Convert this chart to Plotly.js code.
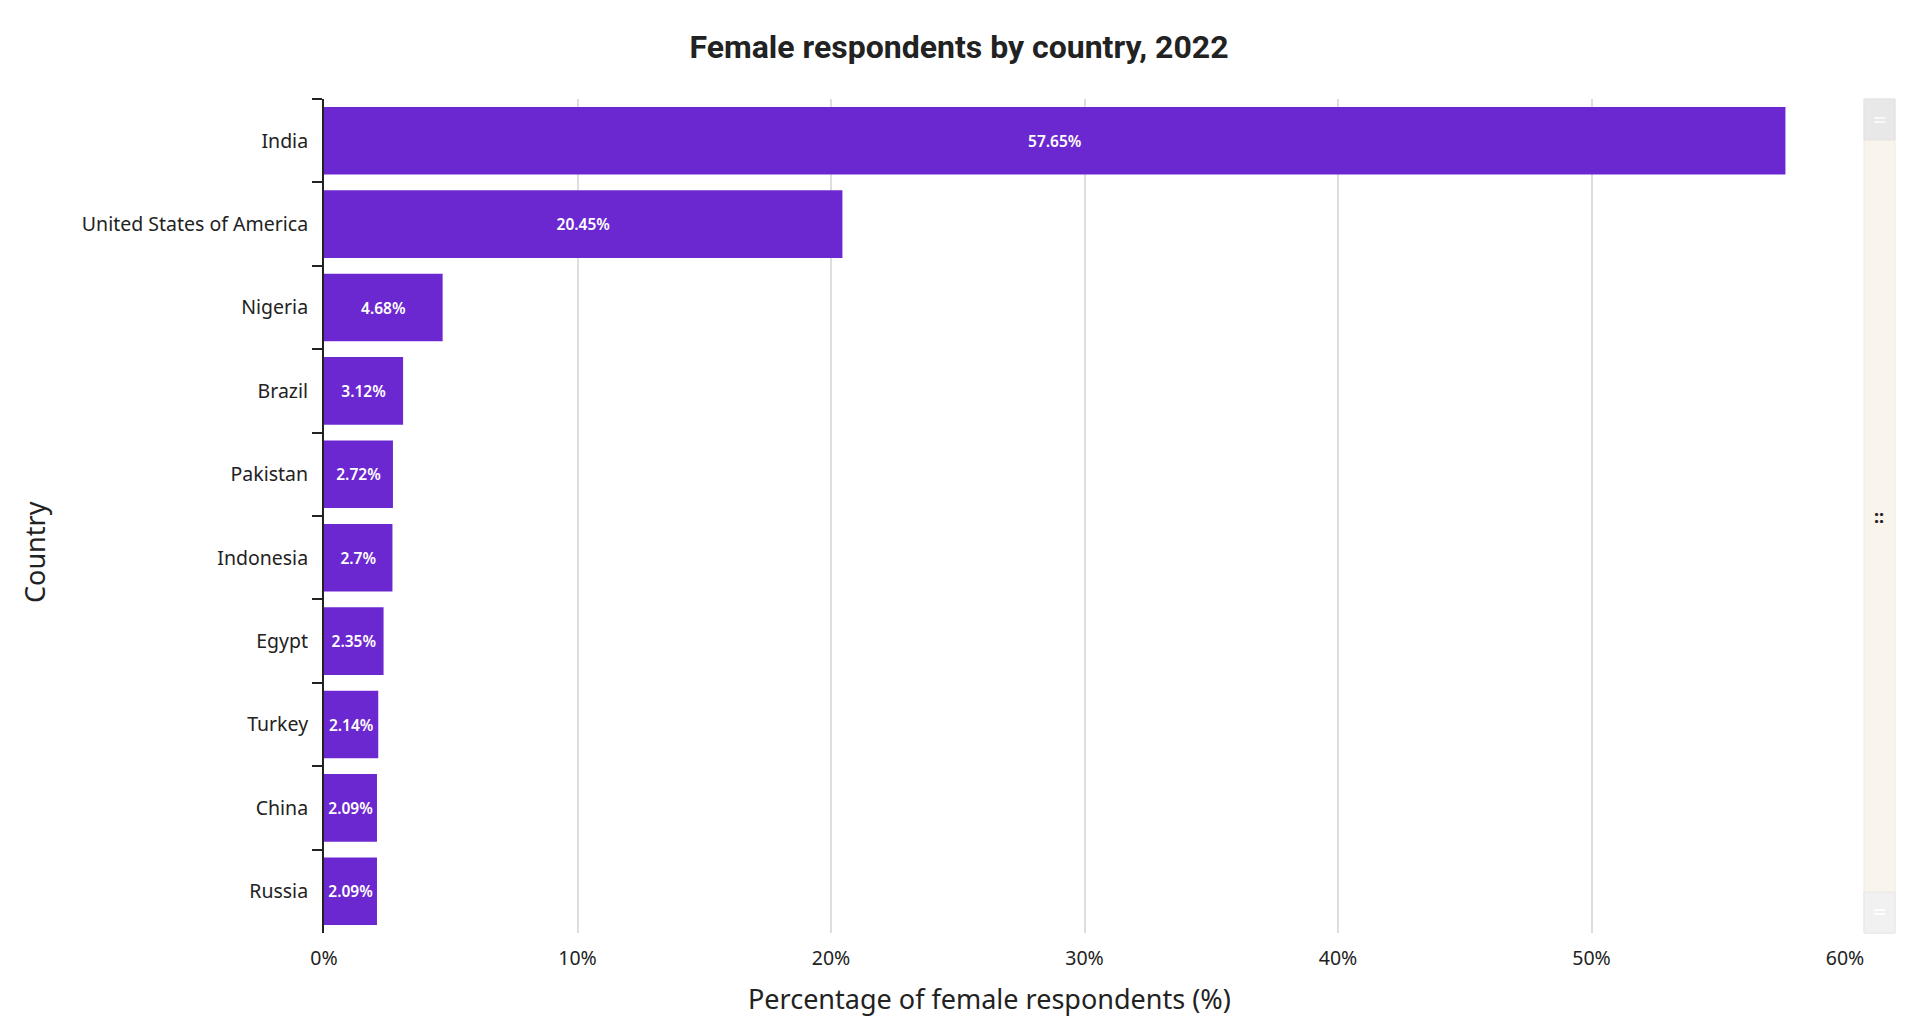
<!DOCTYPE html>
<html>
<head>
<meta charset="utf-8">
<script src="https://cdn.plot.ly/plotly-3.0.1.min.js"></script>
<style>
html,body{margin:0;padding:0;background:#fff;}
#chart{width:1918px;height:1030px;}
</style>
</head>
<body>
<div id="chart"></div>
<script>
const countries = ["India","United States of America","Nigeria","Brazil","Pakistan","Indonesia","Egypt","Turkey","China","Russia"];
const femalePct = [57.65, 20.45, 4.68, 3.12, 2.72, 2.7, 2.35, 2.14, 2.09, 2.09];
const xTickVals = [0,10,20,30,40,50,60];
const xTickText = ["0%","10%","20%","30%","40%","50%","60%"];
const chartTitle = "Female respondents by country, 2022";
const xTitle = "Percentage of female respondents (%)";
const yTitle = "Country";

const barColor = "#6c28d0";
const textFont = "Noto Sans, Open Sans, sans-serif";

const trace = {
  type: "bar",
  orientation: "h",
  x: femalePct,
  y: countries,
  marker: {color: barColor, line: {width: 0}},
  text: femalePct.map(v => v + "%"),
  texttemplate: "%{text}",
  textposition: "inside",
  insidetextanchor: "middle",
  textangle: 0,
  constraintext: "none",
  textfont: {family: textFont, size: 15.5, color: "#ffffff", weight: 600},
  hoverinfo: "x+y",
  showlegend: false
};

const layout = {
  width: 1918,
  height: 1030,
  paper_bgcolor: "#ffffff",
  plot_bgcolor: "#ffffff",
  margin: {l: 324, r: 73, t: 99, b: 97, pad: 0},
  bargap: 0.19,
  uniformtext: {mode: "show", minsize: 15.5},
  title: {
    text: chartTitle,
    font: {family: "Roboto, sans-serif", size: 32, color: "#222222", weight: 700},
    x: 0.5, xanchor: "center",
    y: 1 - 47/1030, yanchor: "middle", yref: "container"
  },
  xaxis: {
    range: [0, 60],
    tickvals: xTickVals,
    ticktext: xTickText,
    showgrid: true,
    gridcolor: "#dedede",
    gridwidth: 1.5,
    zeroline: false,
    showline: false,
    ticks: "outside",
    ticklen: 8,
    tickcolor: "rgba(0,0,0,0)",
    tickfont: {family: textFont, size: 19.5, color: "#222222"},
    fixedrange: true
  },
  yaxis: {
    type: "category",
    autorange: "reversed",
    showgrid: false,
    zeroline: false,
    showline: true,
    linecolor: "#222222",
    linewidth: 2,
    ticks: "outside",
    tickson: "boundaries",
    ticklen: 10,
    tickwidth: 2,
    tickcolor: "#222222",
    ticklabelstandoff: 10,
    tickfont: {family: textFont, size: 19.5, color: "#222222"},
    fixedrange: true
  },
  annotations: [
    {
      text: xTitle, xref: "paper", yref: "paper",
      x: (989-324)/1521, y: (933-998)/834,
      xanchor: "center", yanchor: "middle", showarrow: false,
      font: {family: textFont, size: 27, color: "#222222"}
    },
    {
      text: yTitle, xref: "paper", yref: "paper",
      x: (34-324)/1521, y: (933-552)/834,
      xanchor: "center", yanchor: "middle", showarrow: false, textangle: -90,
      font: {family: textFont, size: 27, color: "#222222"}
    },
    {
      text: "::", xref: "paper", yref: "paper",
      x: (1879-324)/1521, y: 0.5,
      xanchor: "center", yanchor: "middle", showarrow: false,
      font: {family: textFont, size: 18, color: "#222222", weight: 700}
    }
  ],
  shapes: [
    {type: "rect", xref: "paper", yref: "paper",
     x0: (1864-324)/1521, x1: (1895-324)/1521, y0: 0, y1: 1,
     fillcolor: "#faf5ec", line: {color: "#f0ebe2", width: 1}, layer: "below"},
    {type: "rect", xref: "paper", yref: "paper",
     x0: (1864-324)/1521, x1: (1895-324)/1521, y0: (933-140)/834, y1: 1,
     fillcolor: "#e8e8e8", line: {color: "#e2e2e2", width: 1}},
    {type: "rect", xref: "paper", yref: "paper",
     x0: (1864-324)/1521, x1: (1895-324)/1521, y0: 0, y1: (933-892)/834,
     fillcolor: "#f1f1f1", line: {color: "#e6e6e6", width: 1}},
    {type: "line", xref: "paper", yref: "paper",
     x0: (1874-324)/1521, x1: (1885-324)/1521, y0: (933-118)/834, y1: (933-118)/834,
     line: {color: "#ffffff", width: 1.5}},
    {type: "line", xref: "paper", yref: "paper",
     x0: (1874-324)/1521, x1: (1885-324)/1521, y0: (933-122)/834, y1: (933-122)/834,
     line: {color: "#ffffff", width: 1.5}},
    {type: "line", xref: "paper", yref: "paper",
     x0: (1874-324)/1521, x1: (1885-324)/1521, y0: (933-910)/834, y1: (933-910)/834,
     line: {color: "#ffffff", width: 1.5}},
    {type: "line", xref: "paper", yref: "paper",
     x0: (1874-324)/1521, x1: (1885-324)/1521, y0: (933-914)/834, y1: (933-914)/834,
     line: {color: "#ffffff", width: 1.5}}
  ]
};

Plotly.newPlot("chart", [trace], layout, {displayModeBar: false, responsive: false});
</script>
</body>
</html>
